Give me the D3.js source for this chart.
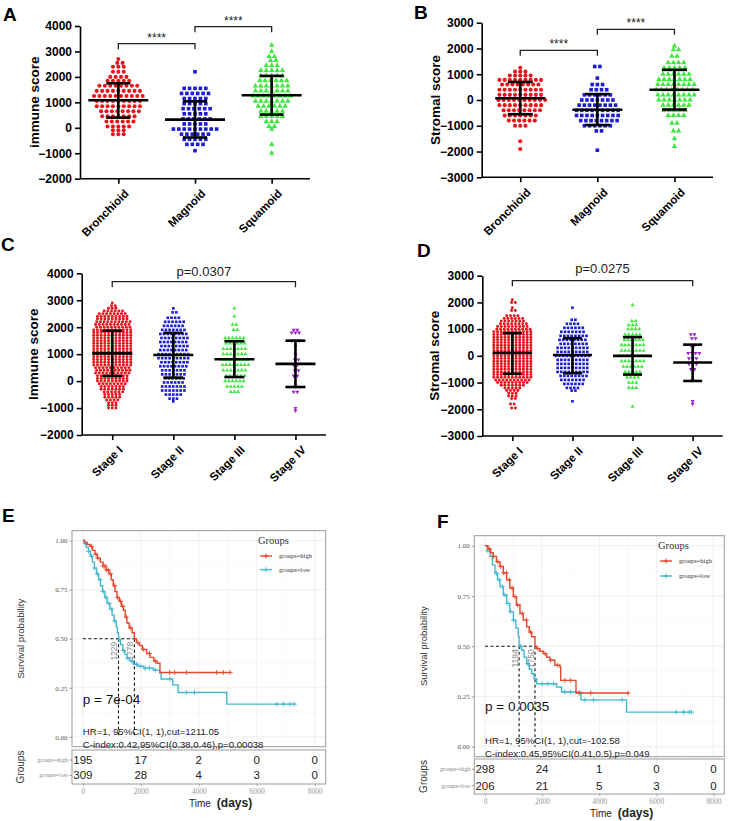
<!DOCTYPE html>
<html>
<head>
<meta charset="utf-8">
<script src="https://cdn.jsdelivr.net/npm/d3@7"></script>
<style>
  body { margin: 0; background: #fff; }
  svg { display: block; }
</style>
</head>
<body>
<svg id="fig" width="739" height="821"></svg>
<script>
// ---------------- data ----------------
const subtypes = ["Bronchioid", "Magnoid", "Squamoid"];
const stages = ["Stage I", "Stage II", "Stage III", "Stage IV"];
const immuneTicksAB = [-2000, -1000, 0, 1000, 2000, 3000, 4000];
const stromalTicks = [-3000, -2000, -1000, 0, 1000, 2000, 3000];
const immuneTicksC = [-2000, -1000, 0, 1000, 2000, 3000, 4000];

// each row: [score, number of samples at that level]
const immuneBronchioid = [[2700,1],[2550,2],[2400,3],[2200,3],[2000,4],[1850,5],[1650,8],[1450,9],[1250,10],[1050,9],[850,9],[650,8],[450,7],[250,6],[50,5],[-100,3],[-250,3]];
const immuneMagnoid = [[2200,1],[1550,5],[1350,6],[1150,5],[950,5],[750,6],[550,5],[350,6],[150,5],[-50,9],[-250,6],[-450,5],[-650,4],[-900,1]];
const immuneSquamoid = [[3250,1],[3000,1],[2800,2],[2650,2],[2450,3],[2250,5],[2050,5],[1850,6],[1650,7],[1450,7],[1250,8],[1050,7],[850,6],[650,5],[450,5],[250,3],[50,2],[-50,1],[-650,1],[-1000,1]];
// mean, mean+sd, mean-sd
const immuneSubtypeBars = [[1080,1750,400],[320,1040,-380],[1280,2040,520]];

const stromalBronchioid = [[1250,1],[1100,3],[950,5],[780,9],[600,8],[400,9],[200,9],[0,10],[-200,9],[-400,8],[-600,7],[-800,6],[-1000,3],[-1600,1],[-1900,1]];
const stromalMagnoid = [[1300,2],[850,1],[600,3],[400,4],[200,6],[0,7],[-200,8],[-400,9],[-600,9],[-800,8],[-1000,6],[-1200,2],[-1950,1]];
const stromalSquamoid = [[2100,1],[1950,2],[1700,2],[1450,4],[1250,5],[1000,6],[800,7],[600,8],[400,8],[200,8],[0,7],[-200,6],[-400,5],[-600,4],[-900,2],[-1200,2],[-1500,1],[-1800,1]];
const stromalSubtypeBars = [[70,700,-550],[-380,230,-970],[400,1170,-370]];

const immuneStageI = [[2900,1],[2800,2],[2700,3],[2600,6],[2500,8],[2400,9],[2300,9],[2200,10],[2100,10],[2000,10],[1900,11],[1800,11],[1700,11],[1600,11],[1500,11],[1400,11],[1300,11],[1200,11],[1100,11],[1000,11],[900,11],[800,11],[700,11],[600,11],[500,10],[400,10],[300,10],[200,9],[100,9],[0,9],[-100,8],[-200,7],[-300,7],[-400,6],[-500,5],[-600,5],[-700,4],[-800,3],[-900,3],[-1000,3]];
const immuneStageII = [[2700,1],[2550,2],[2350,4],[2200,6],[2050,6],[1900,7],[1750,8],[1600,8],[1450,8],[1300,8],[1150,8],[1000,9],[850,9],[700,8],[550,8],[400,7],[250,7],[100,6],[-50,6],[-200,7],[-350,7],[-500,5],[-650,3],[-750,1]];
const immuneStageIII = [[2700,1],[2400,1],[2100,2],[1900,2],[1600,6],[1400,6],[1200,7],[1000,7],[800,8],[600,8],[400,7],[200,6],[0,6],[-200,5],[-400,3]];
const immuneStageIV = [[1900,2],[1800,3],[1500,3],[1300,1],[1000,1],[800,2],[600,2],[400,2],[200,2],[-200,1],[-400,2],[-1000,1],[-1100,1]];
const immuneStageBars = [[1030,1870,190],[970,1790,130],[810,1480,150],[640,1500,-220]];

const stromalStageI = [[2100,1],[2000,2],[1800,1],[1700,2],[1500,4],[1400,6],[1300,7],[1200,8],[1100,9],[1000,10],[900,11],[800,11],[700,11],[600,11],[500,11],[400,11],[300,11],[200,11],[100,11],[0,11],[-100,11],[-200,11],[-300,11],[-400,11],[-500,11],[-600,11],[-700,11],[-800,11],[-900,10],[-1000,9],[-1100,7],[-1200,5],[-1300,4],[-1400,3],[-1500,3],[-1600,2],[-1800,2],[-1950,2]];
const stromalStageII = [[1800,1],[1350,2],[1200,4],[1050,6],[900,7],[750,8],[600,8],[450,8],[300,9],[150,9],[0,10],[-150,9],[-300,9],[-450,9],[-600,9],[-750,8],[-900,7],[-1050,6],[-1200,4],[-1300,2],[-1700,1]];
const stromalStageIII = [[1900,1],[1300,2],[1150,3],[1000,4],[800,5],[600,6],[400,7],[200,7],[0,8],[-200,7],[-400,6],[-600,5],[-800,4],[-1000,3],[-1200,3],[-1900,1]];
const stromalStageIV = [[800,2],[650,2],[400,2],[100,4],[-100,3],[-300,3],[-500,2],[-900,1],[-1700,1],[-1800,1]];
const stromalStageBars = [[110,850,-670],[30,660,-650],[0,700,-700],[-250,420,-940]];

// Kaplan-Meier steps: [time (days), survival probability]
const kmTicks = [0, 2000, 4000, 6000, 8000];
const survTicks = [0, 0.25, 0.5, 0.75, 1];
const immuneHigh = [[0,1],[60,0.99],[150,0.98],[250,0.97],[330,0.95],[420,0.93],[500,0.91],[600,0.89],[700,0.87],[800,0.85],[900,0.83],[980,0.8],[1050,0.77],[1110,0.74],[1180,0.71],[1260,0.69],[1330,0.665],[1400,0.645],[1460,0.61],[1520,0.58],[1600,0.555],[1700,0.53],[1778,0.5],[1850,0.48],[1950,0.465],[2050,0.445],[2200,0.425],[2320,0.405],[2450,0.385],[2560,0.375],[2660,0.328],[5080,0.328]];
const immuneLow = [[0,1],[50,0.985],[120,0.965],[190,0.945],[260,0.92],[330,0.89],[400,0.86],[470,0.83],[540,0.8],[610,0.77],[680,0.74],[760,0.71],[840,0.68],[930,0.65],[1010,0.62],[1080,0.59],[1150,0.56],[1190,0.53],[1229,0.495],[1300,0.47],[1380,0.44],[1450,0.42],[1520,0.4],[1620,0.385],[1745,0.37],[1900,0.36],[2100,0.35],[2430,0.34],[2660,0.325],[2700,0.295],[3100,0.265],[3290,0.226],[4966,0.167],[7300,0.167]];
const immuneHighCensor = [300,450,520,700,760,820,880,950,1100,1200,1300,1380,1500,1650,1900,2100,2300,2500,3000,3170,3580,4615,4845,5080];
const immuneLowCensor = [80,200,300,400,500,600,700,800,900,1000,1100,1250,1400,1550,1700,1850,2000,2150,2300,2500,3000,3570,3850,6690,6920,7150,7300];
const immuneMedians = [1229, 1778];
const immuneRiskHigh = [195, 17, 2, 0, 0];
const immuneRiskLow = [309, 28, 4, 3, 0];

const stromalHigh = [[0,1],[100,0.985],[200,0.965],[292,0.947],[400,0.92],[525,0.897],[640,0.865],[759,0.83],[870,0.79],[992,0.747],[1100,0.705],[1225,0.663],[1340,0.63],[1459,0.597],[1550,0.57],[1634,0.547],[1750,0.5],[1809,0.488],[1920,0.475],[2042,0.463],[2160,0.445],[2275,0.43],[2450,0.405],[2625,0.397],[2650,0.33],[3185,0.267],[5016,0.267]];
const stromalLow = [[0,1],[80,0.975],[175,0.947],[260,0.905],[350,0.863],[440,0.83],[525,0.797],[640,0.755],[759,0.713],[870,0.672],[992,0.63],[1080,0.59],[1167,0.547],[1194,0.5],[1283,0.48],[1370,0.445],[1459,0.413],[1550,0.385],[1634,0.363],[1720,0.338],[1809,0.313],[2508,0.297],[2683,0.272],[3360,0.233],[4958,0.172],[7235,0.172]];
const stromalHighCensor = [150,300,450,550,650,750,850,950,1050,1150,1300,1450,1600,1850,2100,2300,2550,2800,3000,3300,3700,5016];
const stromalLowCensor = [100,250,400,500,600,700,800,900,1000,1250,1500,2000,2200,2400,2800,3000,3500,3800,4800,6700,6950,7150,7235];
const stromalMedians = [1194, 1750];
const stromalRiskHigh = [298, 24, 1, 0, 0];
const stromalRiskLow = [206, 21, 5, 3, 0];

// ---------------- drawing ----------------
const svg = d3.select("#fig");
const SANS = "Arial, 'Liberation Sans', sans-serif";
const SERIF = "'Liberation Serif', 'DejaVu Serif', serif";
const groupColors = ["#e8141c", "#1c1cd2", "#3ee83e", "#9a24cc"];
const groupSymbols = [d3.symbolCircle, d3.symbolSquare, d3.symbolTriangle, d3.symbolTriangle];
const kmColors = { high: "#e8472f", low: "#45b8d0" };

function panelLabel(t, x, y) {
    svg.append("text").attr("x", x).attr("y", y).text(t)
        .attr("font-family", SANS).attr("font-weight", "bold").attr("font-size", 19);
}

function dotPlot(o) {
    const g = svg.append("g");
    const y = d3.scaleLinear().domain([o.ticks[0], o.ticks[o.ticks.length - 1]]).range([o.bottom, o.top]);
    const x = d3.scalePoint().domain(o.cats).range([o.left, o.right]).padding(0.5);

    // y axis
    const ya = g.append("g").attr("transform", `translate(${o.left},0)`)
        .call(d3.axisLeft(y).tickValues(o.ticks).tickSize(5).tickSizeOuter(0).tickPadding(3).tickFormat(d3.format("d")));
    // x axis
    const xa = g.append("g").attr("transform", `translate(0,${o.bottom})`)
        .call(d3.axisBottom(x).tickSize(5).tickSizeOuter(0));
    xa.select(".domain").attr("d", `M${o.left},0H${o.right}`);
    [ya, xa].forEach(a => {
        a.selectAll("path,line").attr("stroke", "#000").attr("stroke-width", 1.6);
        a.selectAll("text").attr("font-family", SANS).attr("font-weight", "bold").attr("fill", "#000");
    });
    ya.selectAll("text").attr("font-size", 12);
    xa.selectAll("text").attr("font-size", 11.5)
        .attr("text-anchor", "end").attr("dy", 0)
        .attr("transform", "translate(5,10) rotate(-45)");

    // y title
    g.append("text").text(o.title)
        .attr("transform", `translate(${o.titleX},${(o.top + o.bottom) / 2}) rotate(-90)`)
        .attr("text-anchor", "middle").attr("font-family", SANS).attr("font-weight", "bold").attr("font-size", 13.5);

    // points, laid out in rows
    o.data.forEach((rows, gi) => {
        const pts = [];
        rows.forEach(([v, n], ri) => {
            for (let i = 0; i < n; i++) {
                const shift = (n % 2 === 0 && ri % 2) ? 0.3 : 0;
                pts.push({ v, off: (i - (n - 1) / 2 + shift) * o.dx });
            }
        });
        const sym = d3.symbol().type(groupSymbols[gi]).size(o.size);
        g.append("g").selectAll("path").data(pts).join("path")
            .attr("d", sym)
            .attr("transform", d => `translate(${x(o.cats[gi]) + d.off},${y(d.v)})${gi === 3 ? " rotate(180)" : ""}`)
            .attr("fill", groupColors[gi]);
    });

    // mean +/- sd bars
    o.bars.forEach(([m, hi, lo], gi) => {
        const cx = x(o.cats[gi]);
        const bg = g.append("g").attr("stroke", "#000").attr("stroke-width", 2.6);
        bg.append("line").attr("x1", cx - o.meanW / 2).attr("x2", cx + o.meanW / 2).attr("y1", y(m)).attr("y2", y(m));
        bg.append("line").attr("x1", cx).attr("x2", cx).attr("y1", y(hi)).attr("y2", y(lo));
        [hi, lo].forEach(v => bg.append("line").attr("x1", cx - o.capW / 2).attr("x2", cx + o.capW / 2).attr("y1", y(v)).attr("y2", y(v)));
    });

    // comparison brackets
    o.brackets.forEach(b => {
        const x1 = x(o.cats[b.a]), x2 = x(o.cats[b.b]);
        g.append("path").attr("d", `M${x1},${b.y + 5.5}V${b.y}H${x2}V${b.y + 5.5}`)
            .attr("fill", "none").attr("stroke", "#222").attr("stroke-width", 1.3);
        g.append("text").text(b.label).attr("x", (x1 + x2) / 2).attr("y", b.y - b.gap)
            .attr("text-anchor", "middle").attr("font-family", SANS).attr("font-size", b.fs).attr("fill", "#222");
    });
}

// A
panelLabel("A", 3, 21);
dotPlot({ cats: subtypes, left: 80, right: 310, top: 26, bottom: 178.7, ticks: immuneTicksAB,
    title: "immune score", titleX: 39, data: [immuneBronchioid, immuneMagnoid, immuneSquamoid],
    bars: immuneSubtypeBars, dx: 5.4, size: 13, meanW: 60, capW: 24,
    brackets: [{ a: 0, b: 1, y: 43.7, label: "****", gap: 2, fs: 12 }, { a: 1, b: 2, y: 26.7, label: "****", gap: 2, fs: 12 }] });

// B
panelLabel("B", 414, 19);
dotPlot({ cats: subtypes, left: 481.7, right: 713, top: 22.7, bottom: 177.3, ticks: stromalTicks,
    title: "Stromal score", titleX: 440, data: [stromalBronchioid, stromalMagnoid, stromalSquamoid],
    bars: stromalSubtypeBars, dx: 5.2, size: 13, meanW: 50, capW: 25,
    brackets: [{ a: 0, b: 1, y: 50.3, label: "****", gap: 2, fs: 12 }, { a: 1, b: 2, y: 29.3, label: "****", gap: 2, fs: 12 }] });

// C
panelLabel("C", 1, 251);
dotPlot({ cats: stages, left: 81.7, right: 326, top: 273.3, bottom: 435, ticks: immuneTicksC,
    title: "Immune score", titleX: 38, data: [immuneStageI, immuneStageII, immuneStageIII, immuneStageIV],
    bars: immuneStageBars, dx: 3.7, size: 7, meanW: 40, capW: 20,
    brackets: [{ a: 0, b: 3, y: 281.7, label: "p=0.0307", gap: 6, fs: 13 }] });

// D
panelLabel("D", 417, 257);
dotPlot({ cats: stages, left: 482.3, right: 722.7, top: 275.7, bottom: 436, ticks: stromalTicks,
    title: "Stromal score", titleX: 439, data: [stromalStageI, stromalStageII, stromalStageIII, stromalStageIV],
    bars: stromalStageBars, dx: 3.7, size: 7, meanW: 39, capW: 19,
    brackets: [{ a: 0, b: 3, y: 280.7, label: "p=0.0275", gap: 7.5, fs: 13 }] });

// ---------------- survival panels ----------------
function kmPanel(o) {
    const g = svg.append("g");
    const x = d3.scaleLinear().domain([-375, 8380]).range([o.left, o.right]);
    const y = d3.scaleLinear().domain([-0.05, 1.05]).range([o.bottom, o.top]);

    // grid
    const minorT = kmTicks.slice(0, -1).map((t, i) => (t + kmTicks[i + 1]) / 2);
    const minorS = survTicks.slice(0, -1).map((s, i) => (s + survTicks[i + 1]) / 2);
    const grid = g.append("g").attr("stroke-width", 0.6);
    minorT.forEach(t => grid.append("line").attr("x1", x(t)).attr("x2", x(t)).attr("y1", o.top).attr("y2", o.bottom).attr("stroke", "#f3f3f3"));
    minorS.forEach(s => grid.append("line").attr("x1", o.left).attr("x2", o.right).attr("y1", y(s)).attr("y2", y(s)).attr("stroke", "#f3f3f3"));
    kmTicks.forEach(t => grid.append("line").attr("x1", x(t)).attr("x2", x(t)).attr("y1", o.top).attr("y2", o.bottom).attr("stroke", "#e6e6e6"));
    survTicks.forEach(s => grid.append("line").attr("x1", o.left).attr("x2", o.right).attr("y1", y(s)).attr("y2", y(s)).attr("stroke", "#e6e6e6"));

    // y axis
    const ya = g.append("g").attr("transform", `translate(${o.left},0)`)
        .call(d3.axisLeft(y).tickValues(survTicks).tickSize(2.5).tickPadding(2).tickFormat(d3.format(".2f")));
    ya.select(".domain").remove();
    ya.selectAll("line").attr("stroke", "#555").attr("stroke-width", 0.6);
    ya.selectAll("text").attr("font-family", SERIF).attr("font-size", 7).attr("fill", "#555");
    g.append("text").text("Survival probability")
        .attr("transform", `translate(${o.titleX},${(o.top + o.bottom) / 2}) rotate(-90)`)
        .attr("text-anchor", "middle").attr("font-family", SANS).attr("font-size", 9.5).attr("fill", "#333");

    // median lines
    const dash = g.append("g").attr("stroke", "#111").attr("stroke-width", 1.1).attr("stroke-dasharray", "3,2.5");
    dash.append("line").attr("x1", x(0)).attr("x2", x(d3.max(o.medians))).attr("y1", y(0.5)).attr("y2", y(0.5));
    o.medians.forEach(m => {
        dash.append("line").attr("x1", x(m)).attr("x2", x(m)).attr("y1", y(0.5)).attr("y2", y(0));
        g.append("text").text(m).attr("transform", `translate(${x(m) - 1.2},${y(0.5) + 3}) rotate(-90)`)
            .attr("text-anchor", "end").attr("font-family", SANS).attr("font-size", 8.5).attr("fill", "#888");
    });

    // curves
    const line = d3.line().x(d => x(d[0])).y(d => y(d[1])).curve(d3.curveStepAfter);
    const bis = d3.bisector(d => d[0]).right;
    [["low", o.low, o.lowCensor], ["high", o.high, o.highCensor]].forEach(([k, steps, cens]) => {
        g.append("path").attr("d", line(steps)).attr("fill", "none")
            .attr("stroke", kmColors[k]).attr("stroke-width", 1.4);
        const cg = g.append("g").attr("stroke", kmColors[k]).attr("stroke-width", 0.9);
        cens.forEach(t => {
            const s = steps[Math.max(0, bis(steps, t) - 1)][1];
            cg.append("path").attr("d", `M${x(t) - 2.5},${y(s)}h5M${x(t)},${y(s) - 2.5}v5`);
        });
    });

    // box
    g.append("rect").attr("x", o.left).attr("y", o.top).attr("width", o.right - o.left).attr("height", o.bottom - o.top)
        .attr("fill", "none").attr("stroke", "#9a9a9a").attr("stroke-width", 1);

    // legend
    g.append("text").text("Groups").attr("x", o.legX - 2).attr("y", o.legY)
        .attr("font-family", SERIF).attr("font-size", 10.5).attr("fill", "#333");
    [["high", "groups=high"], ["low", "groups=low"]].forEach(([k, lab], i) => {
        const ly = o.legY + 12 + i * o.legGap;
        g.append("line").attr("x1", o.legX).attr("x2", o.legX + 12).attr("y1", ly).attr("y2", ly)
            .attr("stroke", kmColors[k]).attr("stroke-width", 1.4);
        g.append("path").attr("d", `M${o.legX + 3.5},${ly}h5M${o.legX + 6},${ly - 2.5}v5`).attr("stroke", kmColors[k]).attr("stroke-width", 1);
        g.append("text").text(lab).attr("x", o.legX + 19).attr("y", ly + 2.3)
            .attr("font-family", SERIF).attr("font-size", 6.5).attr("fill", "#333");
    });

    // statistics text
    g.append("text").text(o.pText).attr("x", x(0)).attr("y", o.pY)
        .attr("font-family", SANS).attr("font-size", 13.5).attr("fill", "#111");
    o.stats.forEach((s, i) => g.append("text").text(s).attr("x", x(0)).attr("y", o.statY + i * 13)
        .attr("font-family", SANS).attr("font-size", 9.6).attr("fill", "#222"));

    // risk table
    const rg = g.append("g");
    kmTicks.forEach(t => rg.append("line").attr("x1", x(t)).attr("x2", x(t)).attr("y1", o.riskTop).attr("y2", o.riskBottom).attr("stroke", "#ececec").attr("stroke-width", 0.6));
    rg.append("rect").attr("x", o.left).attr("y", o.riskTop).attr("width", o.right - o.left).attr("height", o.riskBottom - o.riskTop)
        .attr("fill", "none").attr("stroke", "#9a9a9a").attr("stroke-width", 1);
    [[o.riskHigh, "groups=high"], [o.riskLow, "groups=low"]].forEach(([vals, lab], i) => {
        const ry = o.riskRows[i];
        vals.forEach((v, j) => rg.append("text").text(v).attr("x", x(kmTicks[j])).attr("y", ry + 4)
            .attr("text-anchor", "middle").attr("font-family", SANS).attr("font-size", 11.5).attr("fill", "#222"));
        rg.append("line").attr("x1", o.left - 2.5).attr("x2", o.left).attr("y1", ry).attr("y2", ry).attr("stroke", "#555").attr("stroke-width", 0.6);
        rg.append("text").text(lab).attr("x", o.left - 4).attr("y", ry + 2)
            .attr("text-anchor", "end").attr("font-family", SERIF).attr("font-size", 6).attr("fill", "#888");
    });
    rg.append("text").text("Groups")
        .attr("transform", `translate(${o.titleX},${(o.riskTop + o.riskBottom) / 2}) rotate(-90)`)
        .attr("text-anchor", "middle").attr("font-family", SANS).attr("font-size", 10).attr("fill", "#333");

    const xa = g.append("g").attr("transform", `translate(0,${o.riskBottom})`)
        .call(d3.axisBottom(x).tickValues(kmTicks).tickSize(2.5).tickPadding(2).tickFormat(d3.format("d")));
    xa.select(".domain").remove();
    xa.selectAll("line").attr("stroke", "#888").attr("stroke-width", 0.6);
    xa.selectAll("text").attr("font-family", SERIF).attr("font-size", 7.5).attr("fill", "#999");
    const tt = g.append("text").attr("y", o.timeY).attr("font-family", SANS).attr("fill", "#222");
    tt.append("tspan").text("Time").attr("x", o.timeX).attr("font-size", 10);
    tt.append("tspan").text("(days)").attr("dx", 6).attr("font-size", 12).attr("font-weight", "bold");
}

panelLabel("E", 2, 522);
kmPanel({ left: 72, right: 325.7, top: 530.7, bottom: 746.7, titleX: 24,
    high: immuneHigh, low: immuneLow, highCensor: immuneHighCensor, lowCensor: immuneLowCensor,
    medians: immuneMedians, riskHigh: immuneRiskHigh, riskLow: immuneRiskLow,
    legX: 260, legY: 544, legGap: 13.6,
    pText: "p = 7e-04", pY: 704,
    stats: ["HR=1, 95%CI(1, 1),cut=1211.05", "C-index:0.42,95%CI(0.38,0.46),p=0.00038"], statY: 735,
    riskTop: 750, riskBottom: 784, riskRows: [760, 775.3], timeX: 189, timeY: 807 });

panelLabel("F", 437, 528);
kmPanel({ left: 474.3, right: 724.3, top: 535.7, bottom: 756.7, titleX: 427,
    high: stromalHigh, low: stromalLow, highCensor: stromalHighCensor, lowCensor: stromalLowCensor,
    medians: stromalMedians, riskHigh: stromalRiskHigh, riskLow: stromalRiskLow,
    legX: 660, legY: 549, legGap: 15,
    pText: "p = 0.0035", pY: 711,
    stats: ["HR=1, 95%CI(1, 1),cut=-102.58", "C-index:0.45,95%CI(0.41,0.5),p=0.049"], statY: 744,
    riskTop: 759, riskBottom: 794, riskRows: [769.3, 785.7], timeX: 590, timeY: 817 });
</script>
</body>
</html>
